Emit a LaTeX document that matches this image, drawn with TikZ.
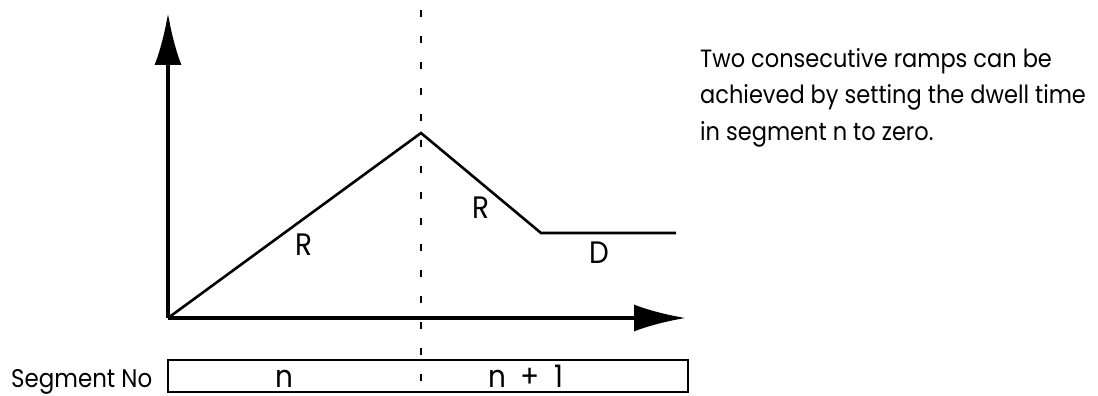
\documentclass[tikz,border=0pt]{standalone}
\usepackage{fontspec}
\setmainfont{Poppins}[FakeStretch=0.9]
\usetikzlibrary{arrows.meta}
\begin{document}
\begin{tikzpicture}[x=1pt,y=-1pt,
  axis/.style={line width=4pt,-{Latex[length=52pt,width=27pt]}},
  ramp/.style={line width=2.6pt},
  divider/.style={line width=2pt,dash pattern=on 7pt off 19pt},
  lbl/.style={inner sep=0pt,anchor=base,font=\fontsize{31}{36}\selectfont},
  txt/.style={inner sep=0pt,anchor=base west},
  segbox/.style={draw,line width=2pt,inner sep=0pt,minimum width=520pt,minimum height=32pt,anchor=north west}]
\useasboundingbox (0,0) rectangle (1098,396);
% coordinates
\coordinate (O) at (168,318);
\coordinate (ytip) at (168,13);
\coordinate (xtip) at (686,318);
\coordinate (peak) at (421,133);
\coordinate (low) at (541,233);
\coordinate (dend) at (676,233);
\coordinate (dtop) at (421,10);
\coordinate (dbot) at (421,392);
% divider
\draw[divider] (dtop) -- (dbot);
% segment box
\node[segbox] (box) at (167,359) {};
% axes
\draw[axis] (O) -- (ytip);
\draw[axis] (O) -- (xtip);
% profile
\draw[ramp,line join=miter] (O) -- (peak) -- (low) -- (dend);
% labels
\node[lbl] (r1) at (304,255) {R};
\node[lbl] (r2) at (481,218) {R};
\node[lbl] (d) at (599,263) {D};
\node[lbl] (n) at (284,387) {n};
\node[lbl] (n1) at (526,387) {n\hspace{15pt}+\hspace{15pt}1};
\node[txt,font=\fontsize{25.5}{30}\selectfont] (seg) at (11,387) {Segment No};
% multi-line node: base anchor is the baseline of the last line
\node[txt,align=left,font=\fontsize{25}{36.5}\selectfont] (note) at (700,140)
  {Two consecutive ramps can be\\achieved by setting the dwell time\\in segment n to zero.};
\end{tikzpicture}
\end{document}
